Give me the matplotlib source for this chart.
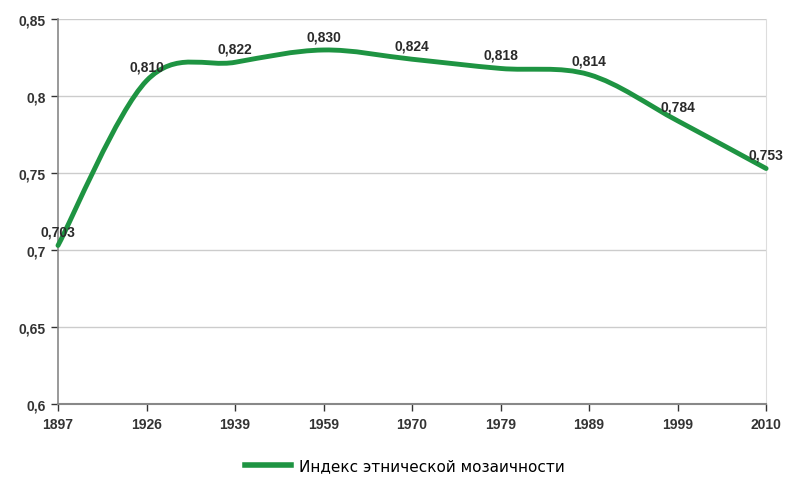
import numpy as np
import matplotlib.pyplot as plt
from matplotlib.path import Path
from matplotlib.patches import PathPatch
from matplotlib.lines import Line2D

plt.rcParams['font.family'] = ['Liberation Sans', 'DejaVu Sans']

years = ['1897', '1926', '1939', '1959', '1970', '1979', '1989', '1999', '2010']
values = [0.703, 0.810, 0.822, 0.830, 0.824, 0.818, 0.814, 0.784, 0.753]
value_labels = ['0,703', '0,810', '0,822', '0,830', '0,824', '0,818', '0,814', '0,784', '0,753']
y_ticks = [0.6, 0.65, 0.7, 0.75, 0.8, 0.85]
y_tick_labels = ['0,6', '0,65', '0,7', '0,75', '0,8', '0,85']
series_name = 'Индекс этнической мозаичности'

green = '#1e9442'

fig = plt.figure(figsize=(7.89, 4.81), dpi=100)
ax = fig.add_axes([0.0735, 0.158, 0.8975, 0.8])

x = np.arange(len(years))
y = np.array(values)

# smoothed line (Catmull-Rom as cubic bezier segments, like Excel)
px = np.concatenate([[x[0]], x, [x[-1]]])
py = np.concatenate([[y[0]], y, [y[-1]]])
verts = [(x[0], y[0])]
codes = [Path.MOVETO]
for i in range(1, len(px) - 2):
    c1 = (px[i] + (px[i + 1] - px[i - 1]) / 6, py[i] + (py[i + 1] - py[i - 1]) / 6)
    c2 = (px[i + 1] - (px[i + 2] - px[i]) / 6, py[i + 1] - (py[i + 2] - py[i]) / 6)
    verts += [c1, c2, (px[i + 1], py[i + 1])]
    codes += [Path.CURVE4] * 3
ax.add_patch(PathPatch(Path(verts, codes), facecolor='none', edgecolor=green,
                       lw=3.5, capstyle='round', joinstyle='round', zorder=3,
                       clip_on=False))

for xi, yi, lab in zip(x, y, value_labels):
    ax.annotate(lab, (xi, yi), xytext=(0, 5), textcoords='offset points',
                ha='center', va='bottom', fontsize=10, fontweight='bold',
                color='#2a2a2a', zorder=4)

ax.set_xlim(0, len(years) - 1)
ax.set_ylim(0.6, 0.85)
ax.set_xticks(x)
ax.set_xticklabels(years)
ax.set_yticks(y_ticks)
ax.set_yticklabels(y_tick_labels)
ax.tick_params(axis='both', labelsize=10, colors='#333333', length=5, width=1)
ax.tick_params(axis='y', pad=4)
ax.tick_params(axis='x', pad=4)
for lab in ax.get_xticklabels() + ax.get_yticklabels():
    lab.set_fontweight('bold')
    lab.set_color('#333333')

ax.grid(axis='y', color='#cccccc', lw=1)
ax.set_axisbelow(True)
ax.spines['top'].set_visible(False)
ax.spines['right'].set_color('#dddddd')
ax.spines['left'].set_color('#888888')
ax.spines['bottom'].set_color('#888888')
ax.spines['left'].set_linewidth(1.2)
ax.spines['bottom'].set_linewidth(1.5)

handle = Line2D([], [], color=green, lw=4)
fig.legend([handle], [series_name], loc='center', bbox_to_anchor=(0.513, 0.03),
           frameon=False, prop={'family': 'DejaVu Sans', 'size': 11},
           handlelength=3.0, handletextpad=0.5)

fig.savefig('out.png', dpi=100)
